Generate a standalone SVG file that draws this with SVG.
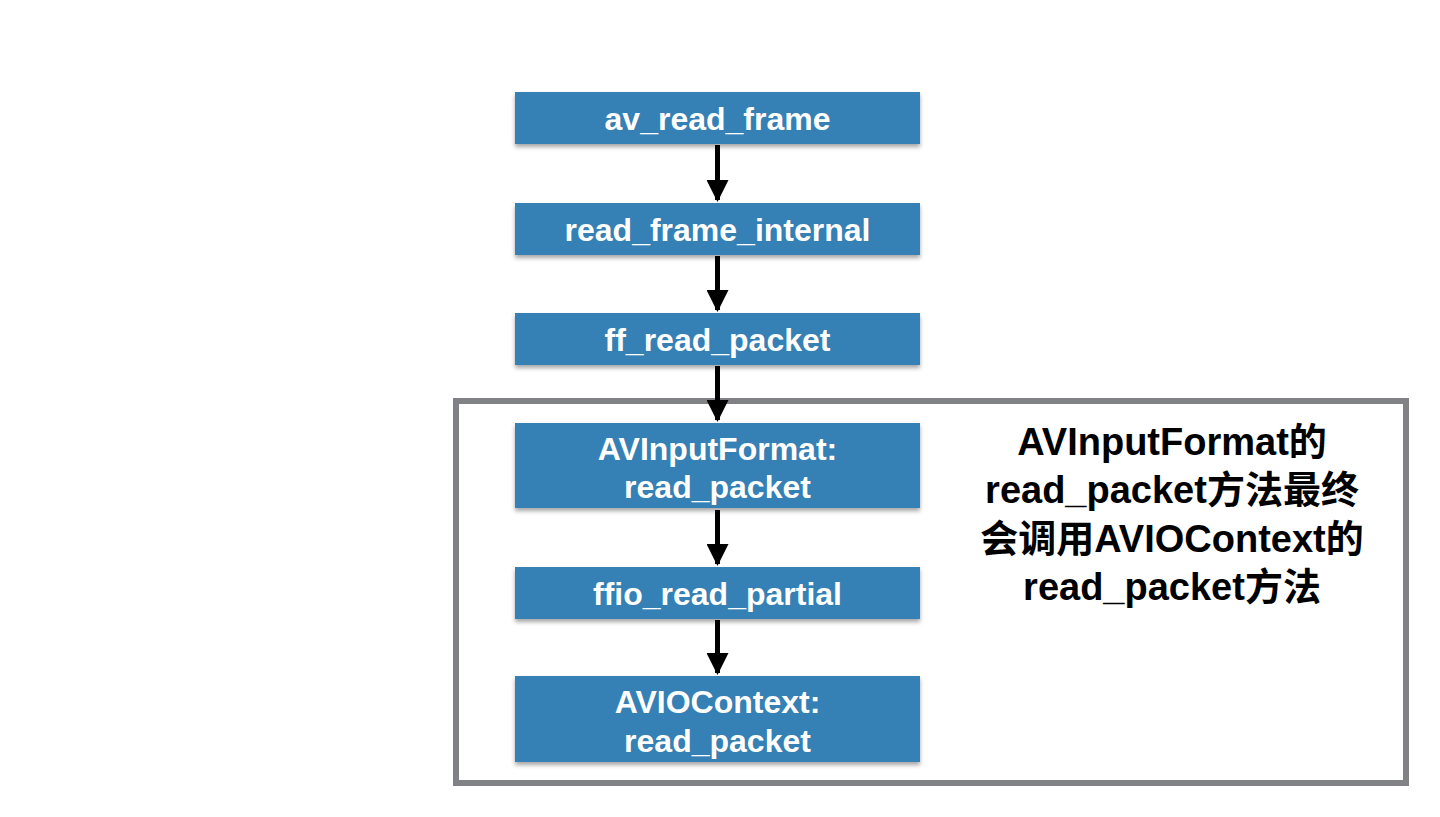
<svg xmlns="http://www.w3.org/2000/svg" width="1440" height="817" viewBox="0 0 1440 817">
<defs>
<filter id="sh" x="-5%" y="-20%" width="110%" height="150%">
<feDropShadow dx="0" dy="3" stdDeviation="2" flood-color="#000" flood-opacity="0.35"/>
</filter>
<marker id="ah" markerUnits="userSpaceOnUse" markerWidth="22" markerHeight="22" viewBox="0 0 22 22" refX="20" refY="11" orient="auto">
<path d="M0,0 L22,11 L0,22 Z" fill="#000"/>
</marker>
<style>
.box{fill:#3680b4;filter:url(#sh)}
.lbl{font-family:"Liberation Sans",Arial,sans-serif;font-weight:bold;font-size:32px;fill:#fff;text-anchor:middle}
.note{font-family:"Liberation Sans","Noto Sans CJK SC",sans-serif;font-weight:bold;font-size:38px;fill:#000;text-anchor:middle}
.con{stroke:#000;stroke-width:5;fill:none}
</style>
</defs>
<rect width="1440" height="817" fill="#fff"/>
<g id="container">
<rect x="456" y="401" width="950" height="382" fill="none" stroke="#808285" stroke-width="6"/>
</g>
<g id="n1"><rect class="box" x="515" y="92" width="405" height="52"/><text class="lbl" x="717.5" y="130">av_read_frame</text></g>
<g id="n2"><rect class="box" x="515" y="203" width="405" height="52"/><text class="lbl" x="717.5" y="241">read_frame_internal</text></g>
<g id="n3"><rect class="box" x="515" y="313" width="405" height="52"/><text class="lbl" x="717.5" y="351">ff_read_packet</text></g>
<g id="n4"><rect class="box" x="515" y="423" width="405" height="85"/><text class="lbl" x="717.5" y="460">AVInputFormat:</text><text class="lbl" x="717.5" y="498">read_packet</text></g>
<g id="n5"><rect class="box" x="515" y="567" width="405" height="52"/><text class="lbl" x="717.5" y="605">ffio_read_partial</text></g>
<g id="n6"><rect class="box" x="515" y="676" width="405" height="86"/><text class="lbl" x="717.5" y="713">AVIOContext:</text><text class="lbl" x="717.5" y="752">read_packet</text></g>
<g id="note">
<text class="note" x="1172" y="455">AVInputFormat的</text>
<text class="note" x="1172" y="503">read_packet方法最终</text>
<text class="note" x="1172" y="552">会调用AVIOContext的</text>
<text class="note" x="1172" y="600">read_packet方法</text>
</g>
<g id="connectors">
<path class="con" d="M717.5,145 V200" marker-end="url(#ah)"/>
<path class="con" d="M717.5,256 V310" marker-end="url(#ah)"/>
<path class="con" d="M717.5,366 V420" marker-end="url(#ah)"/>
<path class="con" d="M717.5,510 V564" marker-end="url(#ah)"/>
<path class="con" d="M717.5,620 V673" marker-end="url(#ah)"/>
</g>
</svg>
